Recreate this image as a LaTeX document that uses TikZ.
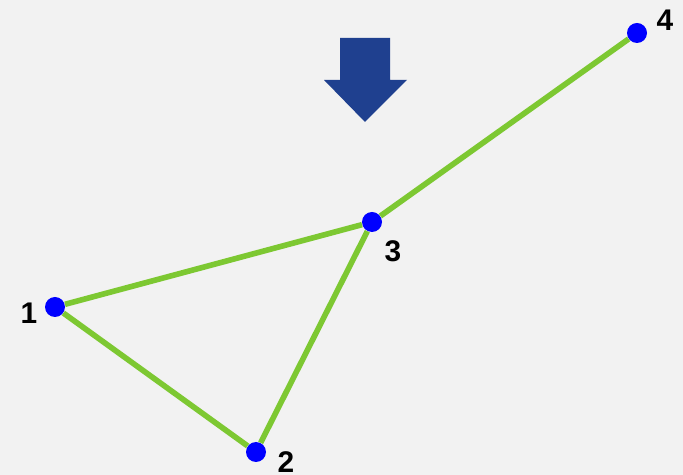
\documentclass[tikz,border=0pt]{standalone}
\usepackage{fontspec}
\setmainfont{Liberation Sans}
\definecolor{bggray}{RGB}{242,242,242}
\definecolor{edgegreen}{RGB}{125,200,50}
\definecolor{arrowblue}{RGB}{31,64,143}
\begin{document}
\begin{tikzpicture}[x=0.02cm,y=-0.02cm,
  vertex/.style={circle,fill=blue,inner sep=0pt,minimum size=0.4cm},
  vlabel/.style={font=\fontsize{17}{19}\selectfont\bfseries,inner sep=0pt},
  edge/.style={edgegreen,line width=3.2pt}]
\fill[bggray] (0,0) rectangle (683,475);
\useasboundingbox (0,0) rectangle (683,475);
% down arrow
\fill[arrowblue] (340,38) -- (390,38) -- (390,80) -- (407,80) -- (365,122)
  -- (324,80) -- (340,80) -- cycle;
% vertices
\node[vertex] (n1) at (55,307) {};
\node[vertex] (n2) at (256,452) {};
\node[vertex] (n3) at (372,222) {};
\node[vertex] (n4) at (637,33) {};
\draw[edge] (n1) -- (n3) -- (n4);
\draw[edge] (n1) -- (n2) -- (n3);
\node[vlabel] (l1) at (29,313) {1};
\node[vlabel] (l2) at (286,462) {2};
\node[vlabel] (l3) at (393,251) {3};
\node[vlabel] (l4) at (665,20) {4};
\end{tikzpicture}
\end{document}
